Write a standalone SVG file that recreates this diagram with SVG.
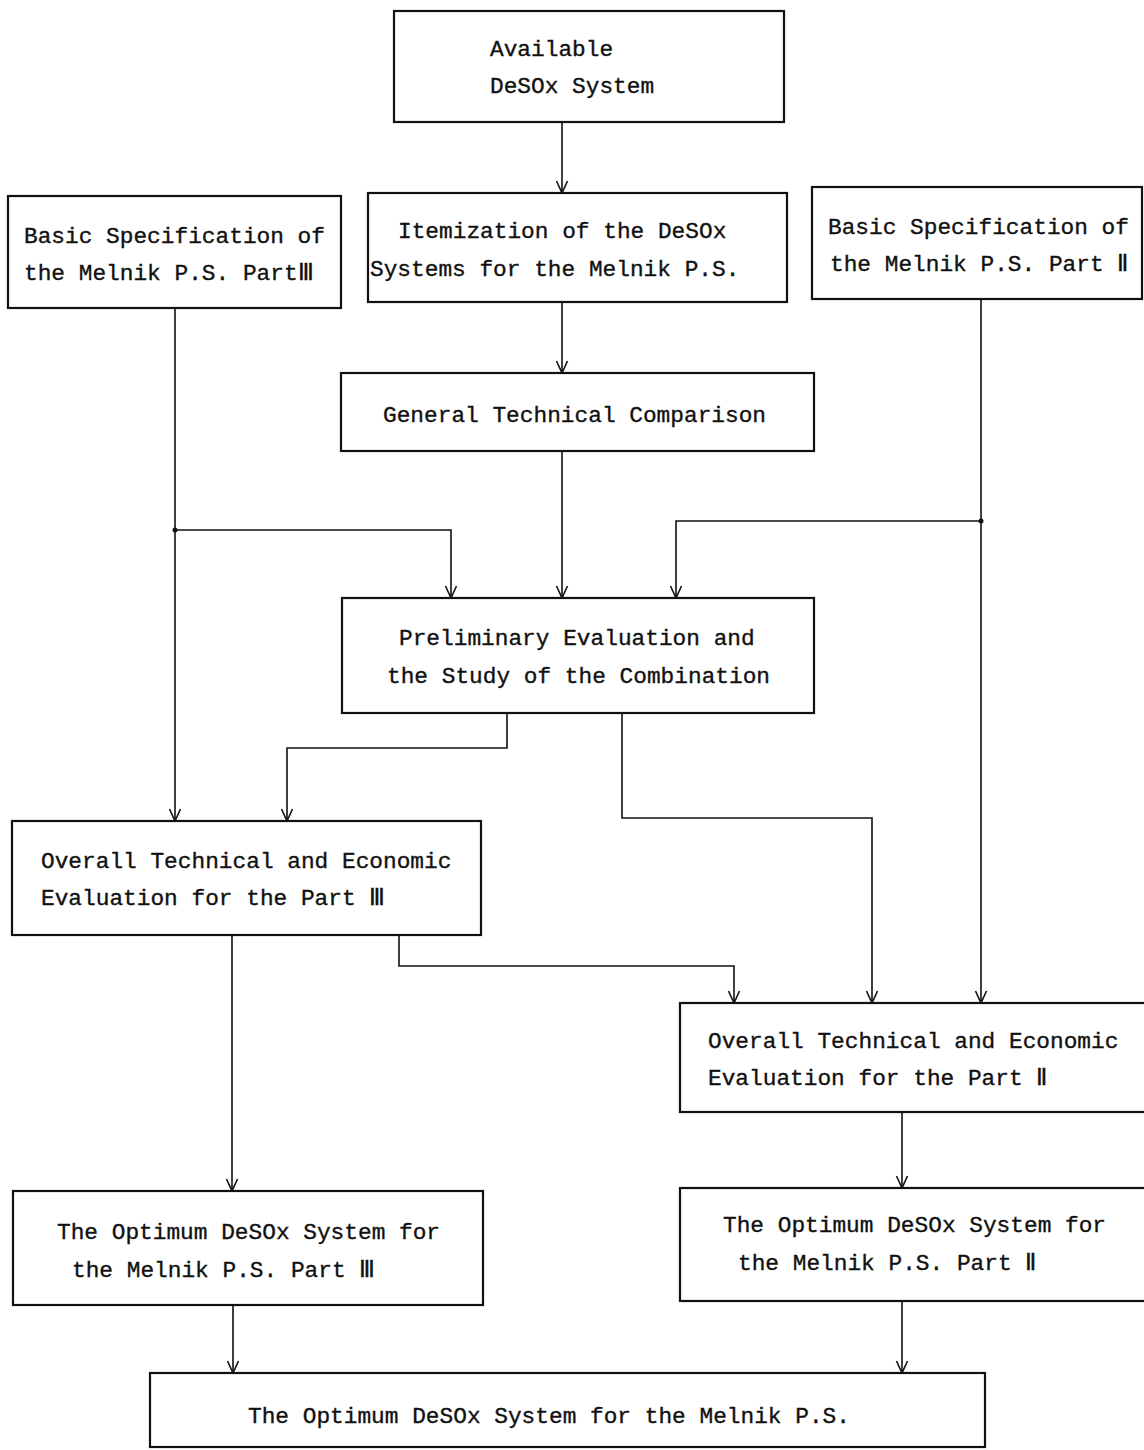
<svg xmlns="http://www.w3.org/2000/svg" width="1144" height="1450" viewBox="0 0 1144 1450">
<defs>
<style>
.box{fill:none;stroke:#111;stroke-width:2.2}
.t{font-family:"Liberation Mono","DejaVu Sans Mono",monospace;font-size:22.8px;fill:#111;stroke:#111;stroke-width:0.35}
.c{fill:none;stroke:#111;stroke-width:1.6}
</style>
<marker id="arr" viewBox="0 0 14 14" refX="13" refY="7" markerWidth="14" markerHeight="14" markerUnits="userSpaceOnUse" orient="auto">
<path d="M1,1.5 L13,7 L1,12.5" fill="none" stroke="#111" stroke-width="1.6"/>
</marker>
</defs>
<rect width="1144" height="1450" fill="#fff"/>
<g id="connectors">
<path class="c" d="M562,122 V193" marker-end="url(#arr)"/>
<path class="c" d="M562,302 V373" marker-end="url(#arr)"/>
<path class="c" d="M562,451 V598" marker-end="url(#arr)"/>
<path class="c" d="M175,308 V821" marker-end="url(#arr)"/>
<path class="c" d="M175,530 H451 V598" marker-end="url(#arr)"/>
<circle cx="175" cy="530" r="2.5" fill="#111"/>
<path class="c" d="M981,299 V1003" marker-end="url(#arr)"/>
<path class="c" d="M981,521 H676 V598" marker-end="url(#arr)"/>
<circle cx="981" cy="521" r="2.5" fill="#111"/>
<path class="c" d="M507,713 V748 H287 V821" marker-end="url(#arr)"/>
<path class="c" d="M622,713 V818 H872 V1003" marker-end="url(#arr)"/>
<path class="c" d="M232,935 V1191" marker-end="url(#arr)"/>
<path class="c" d="M399,935 V966 H734 V1003" marker-end="url(#arr)"/>
<path class="c" d="M902,1112 V1188" marker-end="url(#arr)"/>
<path class="c" d="M233,1305 V1373" marker-end="url(#arr)"/>
<path class="c" d="M902,1301 V1373" marker-end="url(#arr)"/>
</g>
<g id="available">
<rect class="box" x="394" y="11" width="390" height="111"/>
<text class="t" x="490" y="56">Available</text>
<text class="t" x="490" y="93">DeSOx System</text>
</g>
<g id="itemization">
<rect class="box" x="368" y="193" width="419" height="109"/>
<text class="t" x="398" y="238">Itemization of the DeSOx</text>
<text class="t" x="370" y="276">Systems for the Melnik P.S.</text>
</g>
<g id="basic3">
<rect class="box" x="8" y="196" width="333" height="112"/>
<text class="t" x="24" y="243">Basic Specification of</text>
<text class="t" x="24" y="280">the Melnik P.S. PartⅢ</text>
</g>
<g id="basic2">
<rect class="box" x="812" y="187" width="330" height="112"/>
<text class="t" x="828" y="234">Basic Specification of</text>
<text class="t" x="830" y="271">the Melnik P.S. Part Ⅱ</text>
</g>
<g id="general">
<rect class="box" x="341" y="373" width="473" height="78"/>
<text class="t" x="383" y="422">General Technical Comparison</text>
</g>
<g id="preliminary">
<rect class="box" x="342" y="598" width="472" height="115"/>
<text class="t" x="399" y="645">Preliminary Evaluation and</text>
<text class="t" x="387" y="683">the Study of the Combination</text>
</g>
<g id="overall3">
<rect class="box" x="12" y="821" width="469" height="114"/>
<text class="t" x="41" y="868">Overall Technical and Economic</text>
<text class="t" x="41" y="905">Evaluation for the Part Ⅲ</text>
</g>
<g id="overall2">
<rect class="box" x="680" y="1003" width="466" height="109"/>
<text class="t" x="708" y="1048">Overall Technical and Economic</text>
<text class="t" x="708" y="1085">Evaluation for the Part Ⅱ</text>
</g>
<g id="optimum3">
<rect class="box" x="13" y="1191" width="470" height="114"/>
<text class="t" x="57" y="1239">The Optimum DeSOx System for</text>
<text class="t" x="72" y="1277">the Melnik P.S. Part Ⅲ</text>
</g>
<g id="optimum2">
<rect class="box" x="680" y="1188" width="466" height="113"/>
<text class="t" x="723" y="1232">The Optimum DeSOx System for</text>
<text class="t" x="738" y="1270">the Melnik P.S. Part Ⅱ</text>
</g>
<g id="optimum">
<rect class="box" x="150" y="1373" width="835" height="74"/>
<text class="t" x="248" y="1423">The Optimum DeSOx System for the Melnik P.S.</text>
</g>
</svg>
